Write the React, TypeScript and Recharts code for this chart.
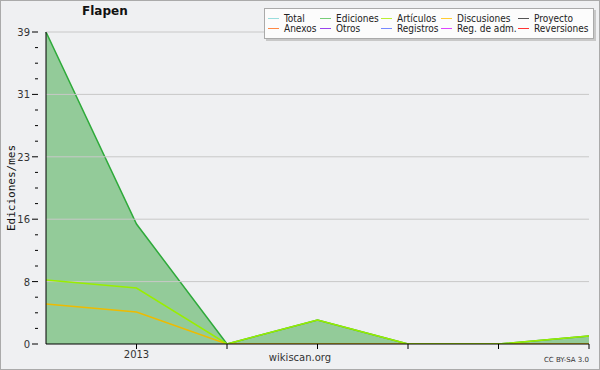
import { ComposedChart, Area, Line, XAxis, YAxis, ReferenceLine } from 'recharts';

const xLabels = ['', '2013', '', '', '', '', ''];
const ediciones = [39, 15, 0, 3, 0, 0, 1];
const articulos = [8, 7, 0, 3, 0, 0, 1];
const discusiones = [5, 4, 0, 0, 0, 0, 0];

const yMax = 39;
const yMajor = [0, 7.8, 15.6, 23.4, 31.2, 39];
const yMinor = [1.95, 3.9, 5.85, 9.75, 11.7, 13.65, 17.55, 19.5, 21.45, 25.35, 27.3, 29.25, 33.15, 35.1, 37.05];

const legendItems = [
    { name: 'Total', color: '#99dddd' },
    { name: 'Ediciones', color: '#77cc77' },
    { name: 'Artículos', color: '#bbee33' },
    { name: 'Discusiones', color: '#ffcc33' },
    { name: 'Proyecto', color: '#555555' },
    { name: 'Anexos', color: '#ff8844' },
    { name: 'Otros', color: '#9944ee' },
    { name: 'Registros', color: '#7788ff' },
    { name: 'Reg. de adm.', color: '#dd44ff' },
    { name: 'Reversiones', color: '#ff3333' },
];
const legendCols = [268, 320, 381, 441, 518];

const chartData = ediciones.map((e, i) => ({
    x: i,
    ediciones: e,
    articulos: articulos[i],
    discusiones: discusiones[i],
}));

const YTick = (props: any) => {
    const { x, y, payload } = props;
    const major = yMajor.includes(payload.value);
    return (
        <g>
            <line x1={x - (major ? 6 : 3)} x2={x} y1={y} y2={y} stroke="#000" />
            {major && (
                <text x={x - 8} y={y} dy={4} textAnchor="end" fontSize={10} fill="#333">
                    {Math.round(payload.value)}
                </text>
            )}
        </g>
    );
};

const App = () => {
    const font = '"DejaVu Sans", sans-serif';
    return (
        <div
            style={{
                position: 'absolute',
                left: 0,
                top: 0,
                width: 600,
                height: 370,
                background: '#eff0f2',
                fontFamily: font,
            }}
        >
            <ComposedChart
                width={600}
                height={370}
                data={chartData}
                margin={{ top: 32, right: 11, bottom: 6, left: 0 }}
                style={{ fontFamily: font }}
            >
                {yMajor.slice(1).map(v => (
                    <ReferenceLine key={v} y={v} stroke="#c8c8c8" />
                ))}
                <XAxis
                    dataKey="x"
                    type="number"
                    domain={[0, 6]}
                    ticks={[1, 2, 3, 4, 5, 6]}
                    tickFormatter={(i: number) => xLabels[i]}
                    stroke="#000"
                    tickSize={5}
                    height={20}
                    tick={{ fontSize: 10, fill: '#333' }}
                />
                <YAxis
                    width={46}
                    domain={[0, yMax]}
                    ticks={[...yMajor, ...yMinor]}
                    interval={0}
                    stroke="#000"
                    tickLine={false}
                    tick={<YTick />}
                    allowDataOverflow
                />
                <Area
                    dataKey="ediciones"
                    type="linear"
                    stroke="#2eaa3a"
                    strokeWidth={1.5}
                    fill="#37a640"
                    fillOpacity={0.5}
                    isAnimationActive={false}
                />
                <Line dataKey="discusiones" stroke="#eebb00" strokeWidth={1.5} dot={false} isAnimationActive={false} />
                <Line dataKey="articulos" stroke="#99ee00" strokeWidth={1.5} dot={false} isAnimationActive={false} />
            </ComposedChart>

            <div style={{ position: 'absolute', left: 0, top: 0, width: 598, height: 368, border: '1px solid #aaa' }} />

            <div style={{ position: 'absolute', left: 82, top: 4, width: 45, textAlign: 'center', fontSize: 12, fontWeight: 'bold', color: '#111' }}>
                Flapen
            </div>

            <div
                style={{
                    position: 'absolute',
                    left: 5,
                    top: 188,
                    transform: 'translate(-50%, -50%) rotate(-90deg)',
                    marginLeft: 6,
                    whiteSpace: 'nowrap',
                    fontFamily: '"DejaVu Sans Mono", monospace',
                    fontSize: 11,
                    color: '#111',
                }}
            >
                Ediciones/mes
            </div>

            <div style={{ position: 'absolute', left: 0, width: 600, top: 352, textAlign: 'center', fontSize: 10, color: '#333' }}>
                wikiscan.org
            </div>
            <div style={{ position: 'absolute', right: 11, top: 356, fontSize: 7, color: '#333' }}>CC BY-SA 3.0</div>

            <div
                style={{
                    position: 'absolute',
                    left: 264,
                    top: 8,
                    width: 328,
                    height: 29,
                    background: '#fcfcfc',
                    border: '1px solid #aaa',
                    boxShadow: '2px 2px 0 #c8c8c8',
                }}
            />
            {legendItems.map((item, i) => {
                const col = i % 5;
                const row = Math.floor(i / 5);
                return (
                    <div
                        key={item.name}
                        style={{
                            position: 'absolute',
                            left: legendCols[col],
                            top: 13 + row * 10,
                            display: 'flex',
                            alignItems: 'center',
                            fontFamily: '"DejaVu Sans Condensed", "DejaVu Sans", sans-serif',
                            fontSize: 10,
                            lineHeight: '11px',
                            color: '#222',
                            whiteSpace: 'nowrap',
                        }}
                    >
                        <span style={{ display: 'inline-block', width: 11, height: 1, background: item.color, marginRight: 5 }} />
                        {item.name}
                    </div>
                );
            })}
        </div>
    );
};

export default App;
